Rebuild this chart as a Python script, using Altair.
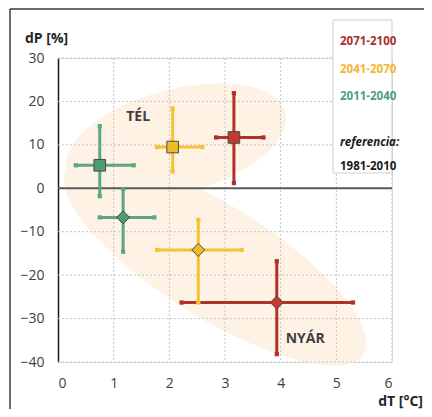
import altair as alt
import numpy as np
import pandas as pd

# ---------------- data ----------------
periods = ["2011-2040", "2041-2070", "2071-2100"]
line_colors = ["#5BA77F", "#F5C234", "#B2302A"]
fill_colors = ["#4E9A73", "#F1BA2C", "#C53A2E"]

# winter (TÉL)
tel_dT = [0.75, 2.06, 3.16]
tel_dP = [5.3, 9.5, 11.7]
tel_dT_lo = [0.32, 1.78, 2.84]
tel_dT_hi = [1.36, 2.59, 3.69]
tel_dP_lo = [-1.8, 3.9, 1.2]
tel_dP_hi = [14.3, 18.4, 21.9]

# summer (NYÁR)
nyar_dT = [1.17, 2.52, 3.93]
nyar_dP = [-6.7, -14.2, -26.3]
nyar_dT_lo = [0.75, 1.78, 2.22]
nyar_dT_hi = [1.73, 3.30, 5.30]
nyar_dP_lo = [-14.6, -26.3, -38.2]
nyar_dP_hi = [-0.2, -7.3, -16.8]

x_ticks = [0, 1, 2, 3, 4, 5, 6]
y_ticks = [-40, -30, -20, -10, 0, 10, 20, 30]

# background blobs (season groups)
blob_names = ["TÉL", "NYÁR"]
blob_cx = [2.12, 2.82]
blob_cy = [10.8, -16.8]

legend_labels = ["2071-2100", "2041-2070", "2011-2040", "referencia:", "1981-2010"]

# ---------------- frames ----------------
rows = []
for season, shp, X, Y, XL, XH, YL, YH in [
    ("TÉL", "square", tel_dT, tel_dP, tel_dT_lo, tel_dT_hi, tel_dP_lo, tel_dP_hi),
    ("NYÁR", "diamond", nyar_dT, nyar_dP, nyar_dT_lo, nyar_dT_hi, nyar_dP_lo, nyar_dP_hi),
]:
    for i, p in enumerate(periods):
        rows.append(dict(season=season, shp=shp, period=p, x=X[i], y=Y[i],
                         xlo=XL[i], xhi=XH[i], ylo=YL[i], yhi=YH[i]))
df = pd.DataFrame(rows)

caps = []
for r in rows:
    caps += [dict(period=r["period"], x=r["xlo"], y=r["y"]),
             dict(period=r["period"], x=r["xhi"], y=r["y"]),
             dict(period=r["period"], x=r["x"], y=r["ylo"]),
             dict(period=r["period"], x=r["x"], y=r["yhi"])]
df_caps = pd.DataFrame(caps)


def ellipse_path(ratio, angle_deg, n=90):
    t = np.linspace(0, 2 * np.pi, n, endpoint=False)
    ex, ey = np.cos(t), ratio * np.sin(t)
    a = np.radians(angle_deg)
    px = ex * np.cos(a) - ey * np.sin(a)
    py = ex * np.sin(a) + ey * np.cos(a)
    pts = [f"{u:.4f} {v:.4f}" for u, v in zip(px, py)]
    return "M " + " L ".join(pts) + " Z"


blob_paths = [ellipse_path(0.46, -15), ellipse_path(0.32, 32)]
blob_sizes = [(2 * 113) ** 2, (2 * 175) ** 2]
df_blob = pd.DataFrame({"name": blob_names, "x": blob_cx, "y": blob_cy, "sz": blob_sizes})

W, H = 334, 304
xs = alt.Scale(domain=[0, 6], nice=False, zero=False)
ys = alt.Scale(domain=[-40, 30], nice=False, zero=False)
FONT = "Open Sans"
TXT = "#404040"

color_scale = alt.Scale(domain=periods, range=line_colors)
fill_scale = alt.Scale(domain=periods, range=fill_colors)

base = alt.Chart(df)

# blobs
blobs = alt.Chart(df_blob).mark_point(filled=True, opacity=1, strokeWidth=0, color="#FDF2E4").encode(
    x=alt.X("x:Q", scale=xs, axis=alt.Axis(
        values=x_ticks, format="d", grid=False, domain=False, ticks=False, labelPadding=14,
        labelFont=FONT, labelFontSize=14, labelColor=TXT, title=None)),
    y=alt.Y("y:Q", scale=ys, axis=alt.Axis(
        values=y_ticks, format="d", grid=False, domain=True, domainColor="#1a1a1a", domainWidth=1.5,
        ticks=False, labelPadding=14, labelFont=FONT, labelFontSize=14, labelColor=TXT, title=None)),
    shape=alt.Shape("name:N", scale=alt.Scale(domain=blob_names, range=blob_paths), legend=None),
    size=alt.Size("sz:Q", scale=None, legend=None),
)

grid_x = alt.Chart(pd.DataFrame({"t": x_ticks[1:]})).mark_rule(
    color="#c4c4c4", strokeDash=[2, 2], strokeWidth=1).encode(x=alt.X("t:Q", scale=xs))
grid_y = alt.Chart(pd.DataFrame({"t": y_ticks})).mark_rule(
    color="#c4c4c4", strokeDash=[2, 2], strokeWidth=1).encode(y=alt.Y("t:Q", scale=ys))
zero_line = alt.Chart(pd.DataFrame({"t": [0]})).mark_rule(
    color="#5a5a5a", strokeWidth=2).encode(y=alt.Y("t:Q", scale=ys))

hbars = base.mark_rule(strokeWidth=3).encode(
    x=alt.X("xlo:Q", scale=xs), x2="xhi:Q", y=alt.Y("y:Q", scale=ys),
    color=alt.Color("period:N", scale=color_scale, legend=None))
vbars = base.mark_rule(strokeWidth=3).encode(
    x=alt.X("x:Q", scale=xs), y=alt.Y("ylo:Q", scale=ys), y2="yhi:Q",
    color=alt.Color("period:N", scale=color_scale, legend=None))
cap_marks = alt.Chart(df_caps).mark_square(size=18, opacity=1).encode(
    x=alt.X("x:Q", scale=xs), y=alt.Y("y:Q", scale=ys),
    color=alt.Color("period:N", scale=color_scale, legend=None))

sq = base.transform_filter(alt.datum.shp == "square").mark_point(
    shape="square", filled=True, size=135, stroke="#4a4a4a", strokeWidth=1, opacity=1).encode(
    x=alt.X("x:Q", scale=xs), y=alt.Y("y:Q", scale=ys),
    fill=alt.Fill("period:N", scale=fill_scale, legend=None))
dm = base.transform_filter(alt.datum.shp == "diamond").mark_point(
    shape="diamond", filled=True, size=170, stroke="#4a4a4a", strokeWidth=1, opacity=1).encode(
    x=alt.X("x:Q", scale=xs), y=alt.Y("y:Q", scale=ys),
    fill=alt.Fill("period:N", scale=fill_scale, legend=None))

season_labels = alt.Chart(pd.DataFrame({"t": ["TÉL", "NYÁR"], "x": [1.44, 4.44], "y": [16.3, -34.8]})).mark_text(
    font=FONT, fontSize=14, fontWeight="bold", color=TXT).encode(
    x=alt.X("x:Q", scale=xs), y=alt.Y("y:Q", scale=ys), text="t:N")

# titles
t_dp = alt.Chart(pd.DataFrame({"t": ["dP [%]"]})).mark_text(
    font=FONT, fontSize=14, fontWeight="bold", color="#262626", align="left", baseline="middle").encode(
    x=alt.value(-33), y=alt.value(-19), text="t:N")
t_dt = alt.Chart(pd.DataFrame({"t": ["dT [°C]"]})).mark_text(
    font=FONT, fontSize=14, fontWeight="bold", color="#262626", align="right", baseline="middle").encode(
    x=alt.value(365), y=alt.value(344), text="t:N")

# legend box
leg_box = alt.Chart(pd.DataFrame({"t": [0]})).mark_rect(
    fill="white", stroke="#cfcfcf", strokeWidth=1).encode(
    x=alt.value(275), x2=alt.value(334), y=alt.value(-38), y2=alt.value(115))
leg_colors = ["#A8302A", "#F2B52E", "#4E9E80", "#1a1a1a", "#1a1a1a"]
leg_styles = ["normal", "normal", "normal", "italic", "normal"]
leg_y = [-16, 12, 39, 85, 109]
leg_layers = []
for lab, col, sty, yy in zip(legend_labels, leg_colors, leg_styles, leg_y):
    leg_layers.append(alt.Chart(pd.DataFrame({"t": [lab]})).mark_text(
        font=FONT, fontSize=11.5, fontWeight="bold", fontStyle=sty, color=col,
        align="left", baseline="middle").encode(
        x=alt.value(282), y=alt.value(yy), text="t:N"))

# outer frame (top and left edges)
frame_top = alt.Chart(pd.DataFrame({"t": [0]})).mark_rule(color="#3a3a3a", strokeWidth=1.5).encode(
    x=alt.value(-48), x2=alt.value(380), y=alt.value(-49))
frame_left = alt.Chart(pd.DataFrame({"t": [0]})).mark_rule(color="#3a3a3a", strokeWidth=1.5).encode(
    x=alt.value(-48), y=alt.value(-49), y2=alt.value(360))

chart = alt.layer(
    blobs, grid_x, grid_y, zero_line, hbars, vbars, cap_marks, sq, dm, season_labels,
    t_dp, t_dt, leg_box, *leg_layers, frame_top, frame_left
).properties(
    width=W, height=H,
    autosize=alt.AutoSizeParams(type="none"),
    padding={"left": 50, "top": 50, "right": 32, "bottom": 47},
).configure_view(stroke=None).configure(background="white")

chart.save("out.html", embed_options={"renderer": "svg", "actions": False})
